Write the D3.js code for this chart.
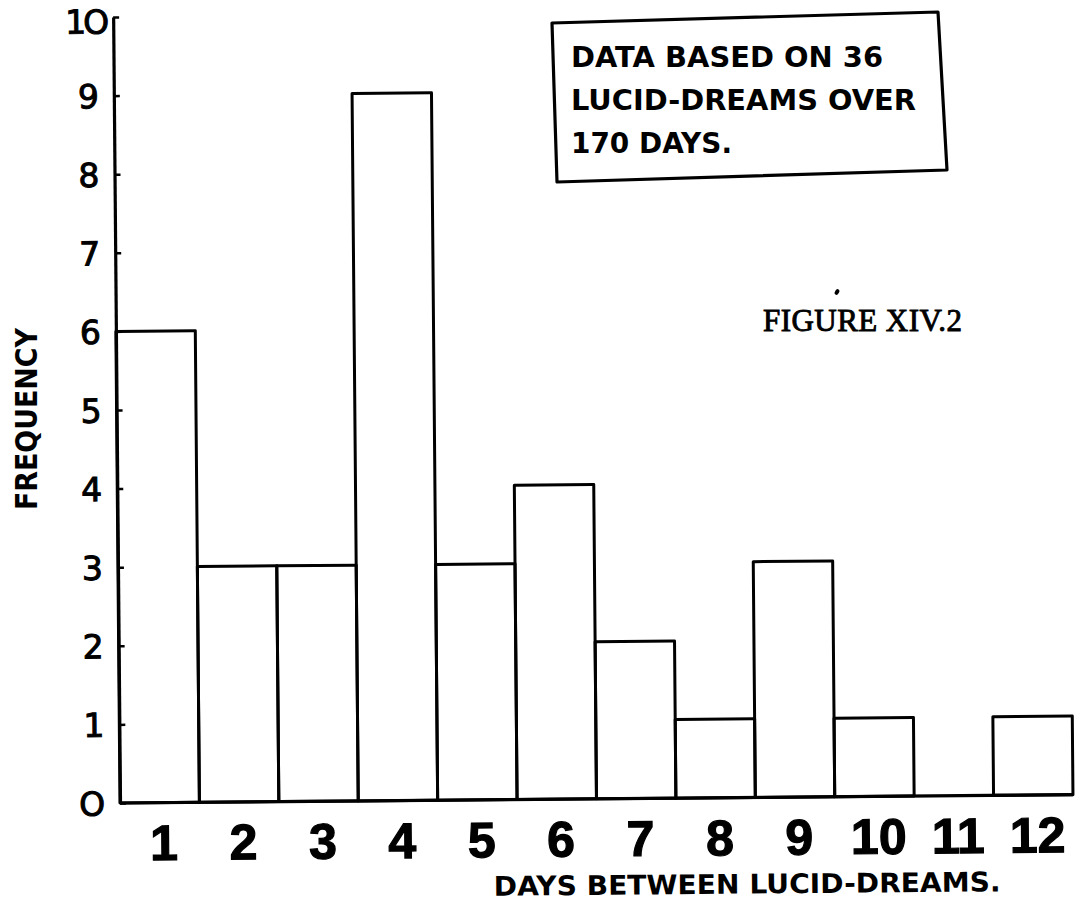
<!DOCTYPE html>
<html>
<head>
<meta charset="utf-8">
<script src="https://cdn.jsdelivr.net/npm/d3@7"></script>
<style>
  html, body { margin: 0; padding: 0; background: #fff; }
  svg { display: block; }
</style>
</head>
<body>
<svg id="chart" width="1083" height="911"></svg>
<script>
// Days between lucid dreams and how often each gap occurred
const days = [1, 2, 3, 4, 5, 6, 7, 8, 9, 10, 11, 12];
const frequency = [6, 3, 3, 9, 3, 4, 2, 1, 3, 1, 0, 1];
const yTicks = [0, 1, 2, 3, 4, 5, 6, 7, 8, 9, 10];
const noteLines = ["DATA BASED ON 36", "LUCID-DREAMS OVER", "170 DAYS."];
const xTitle = "DAYS BETWEEN LUCID-DREAMS.";
const yTitle = "FREQUENCY";
const figureLabel = "FIGURE XIV.2";

const svg = d3.select("#chart");
const ink = "#000";

const x = d3.scaleBand().domain(days).range([120, 1073]).padding(0);
const y = d3.scaleLinear().domain([0, 10]).range([803, 17]);

// the hand-drawn plot sits slightly tilted on the page
const plot = svg.append("g").attr("transform", "rotate(-0.5, 120, 803)");

// bars: open rectangles, neighbours share their edges
plot.append("g").selectAll("rect")
  .data(days.map((d, i) => ({ day: d, f: frequency[i] })).filter(d => d.f > 0))
  .join("rect")
  .attr("x", d => x(d.day))
  .attr("y", d => y(d.f))
  .attr("width", x.bandwidth())
  .attr("height", d => y(0) - y(d.f))
  .attr("fill", "none")
  .attr("stroke", ink)
  .attr("stroke-width", 3)
  .attr("stroke-linejoin", "round");

// baseline
plot.append("line")
  .attr("x1", x.range()[0]).attr("x2", x.range()[1])
  .attr("y1", y(0)).attr("y2", y(0))
  .attr("stroke", ink).attr("stroke-width", 3.2);

// y axis with inward ticks
const yAxis = plot.append("g")
  .attr("transform", `translate(${x.range()[0]},0)`)
  .call(d3.axisLeft(y).tickValues(yTicks).tickSizeInner(-6).tickSizeOuter(0).tickPadding(15)
    .tickFormat(d => d === 0 ? "O" : d === 10 ? "1O" : String(d)));
yAxis.select(".domain").attr("stroke", ink).attr("stroke-width", 3.2);
yAxis.selectAll(".tick line").attr("stroke", ink).attr("stroke-width", 2.5);
yAxis.selectAll(".tick text")
  .attr("fill", ink)
  .style("font-family", "'DejaVu Sans', sans-serif")
  .style("font-size", "33px")
  .attr("stroke", ink)
  .attr("stroke-width", 1)
  .attr("dy", "0.36em");
yAxis.selectAll(".tick").filter(d => d === 10).select("text")
  .attr("dx", 8).attr("dy", "0.48em").style("letter-spacing", "-3px");

// x axis day numbers
const xAxis = plot.append("g")
  .attr("transform", `translate(0,${y(0)})`)
  .call(d3.axisBottom(x).tickSize(0).tickPadding(22));
xAxis.select(".domain").remove();
xAxis.selectAll(".tick text")
  .attr("fill", ink)
  .attr("stroke", ink)
  .attr("stroke-width", 1.2)
  .style("font-family", "'Liberation Sans Narrow', 'Liberation Sans', sans-serif")
  .style("font-weight", "bold")
  .style("font-size", "50px")
  .attr("dy", "0.71em")
  .attr("dx", 4);

// x axis title
plot.append("text")
  .attr("x", 493).attr("y", 899)
  .attr("textLength", 507).attr("lengthAdjust", "spacingAndGlyphs")
  .style("font-family", "'DejaVu Sans', sans-serif")
  .style("font-weight", "bold")
  .style("font-size", "27px")
  .attr("fill", ink)
  .text(xTitle);

// y axis title
svg.append("text")
  .attr("transform", "translate(37,419) rotate(-90)")
  .attr("text-anchor", "middle")
  .attr("textLength", 182).attr("lengthAdjust", "spacingAndGlyphs")
  .style("font-family", "'DejaVu Sans', sans-serif")
  .style("font-weight", "bold")
  .style("font-size", "31px")
  .attr("fill", ink)
  .text(yTitle);

// note box
const boxPts = [[552, 23], [938, 12], [947, 170], [557, 182]];
svg.append("path")
  .attr("d", d3.line()(boxPts) + "Z")
  .attr("fill", "#fff")
  .attr("stroke", ink)
  .attr("stroke-width", 3.2)
  .attr("stroke-linejoin", "round");

const noteLengths = [312, 345, 161];
svg.append("g").selectAll("text")
  .data(noteLines)
  .join("text")
  .attr("x", 571)
  .attr("y", (d, i) => 67 + i * 43)
  .attr("textLength", (d, i) => noteLengths[i])
  .attr("lengthAdjust", "spacingAndGlyphs")
  .style("font-family", "'DejaVu Sans', sans-serif")
  .style("font-weight", "bold")
  .style("font-size", "29px")
  .attr("fill", ink)
  .text(d => d);

// typed figure caption
svg.append("text")
  .attr("x", 763).attr("y", 331)
  .attr("textLength", 199).attr("lengthAdjust", "spacing")
  .style("font-family", "'Liberation Serif', serif")
  .style("font-size", "31px")
  .attr("stroke", ink)
  .attr("stroke-width", 0.9)
  .attr("fill", ink)
  .text(figureLabel);
svg.append("ellipse")
  .attr("cx", 837).attr("cy", 292).attr("rx", 2).attr("ry", 3)
  .attr("transform", "rotate(30,837,292)")
  .attr("fill", ink);
</script>
</body>
</html>
